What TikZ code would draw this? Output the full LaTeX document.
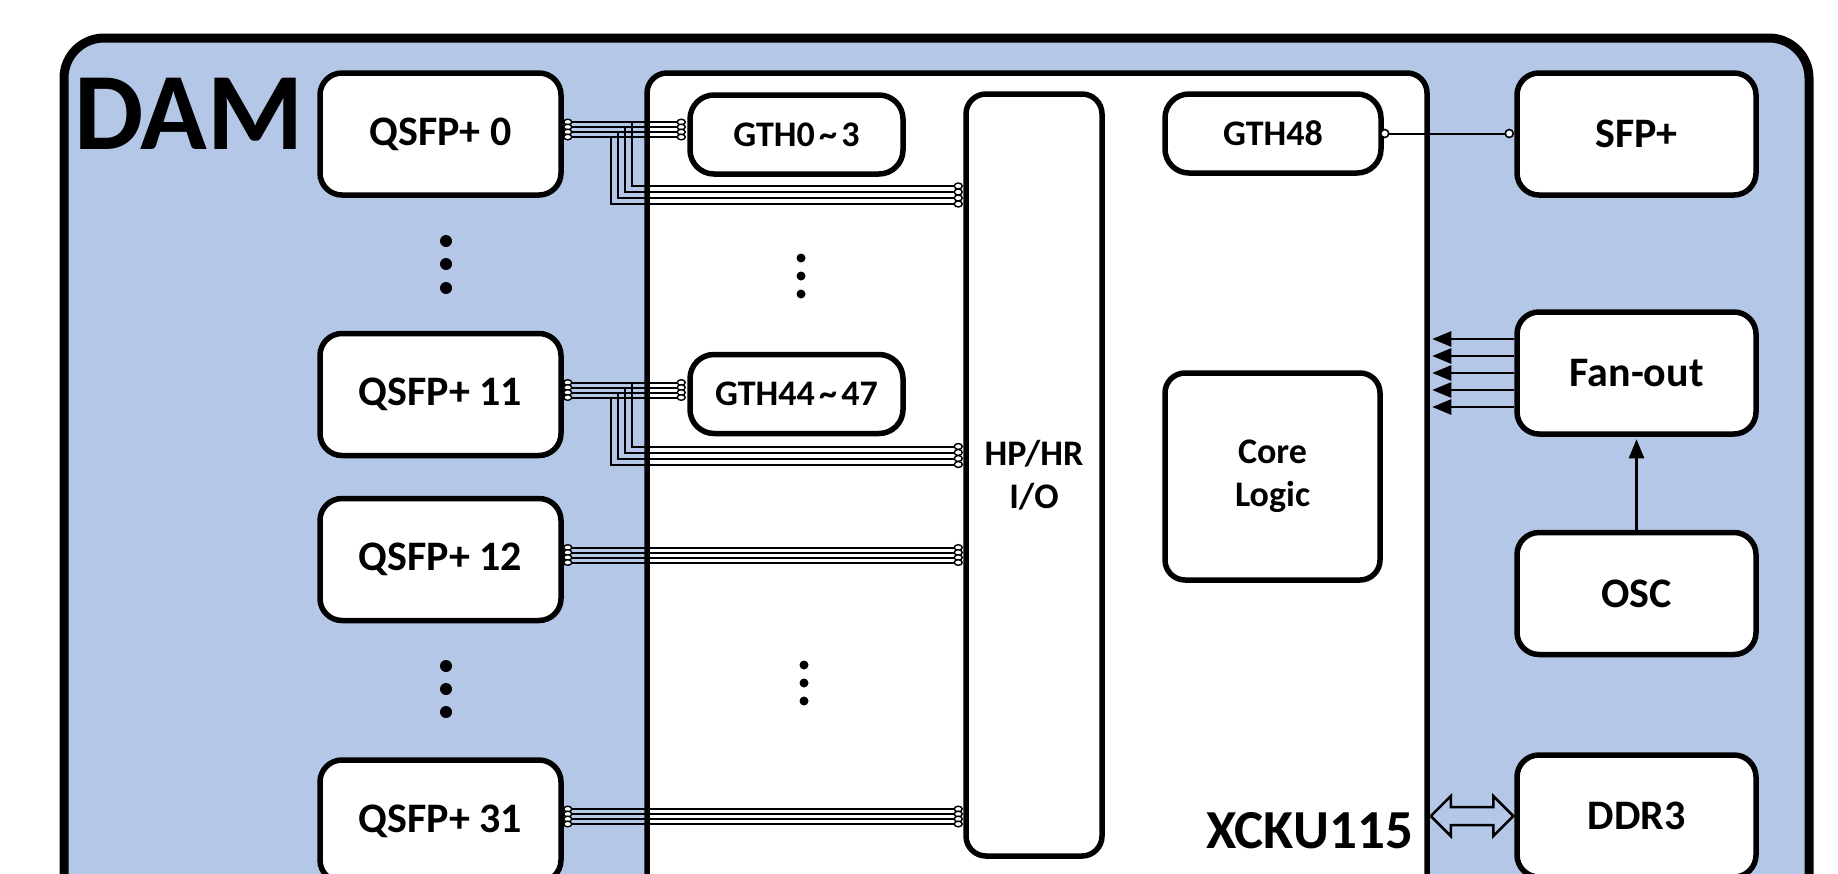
\documentclass[tikz,border=0pt]{standalone}
\usepackage{fontspec}
\setmainfont{Carlito}
\usetikzlibrary{arrows.meta,calc}
\definecolor{dambg}{HTML}{B4C7E7}
\newcommand{\gtil}{\hspace{0.12em}\textasciitilde\hspace{0.12em}}
\tikzset{
  box/.style={draw=black, line width=5.5pt, fill=white, rounded corners=22pt, inner sep=0pt,
    font=\bfseries\fontsize{42}{50}\selectfont},
  sbox/.style={box, rounded corners=24pt, font=\bfseries\fontsize{36}{43}\selectfont},
  bus/.style={line width=2pt},
  pin/.style={draw=black, line width=1.4pt, fill=white},
  fanarrow/.style={line width=2.5pt, -{Triangle[length=19pt,width=15pt]}},
  dotmark/.style={fill=black},
}
\begin{document}
\begin{tikzpicture}[x=1pt,y=-1pt]
\useasboundingbox (0,0) rectangle (1838,873);
\clip (0,0) rectangle (1838,873);
\fill[white] (0,0) rectangle (1838,873);

% containers
\node[box, fill=dambg, line width=9pt, rounded corners=40pt, minimum width=1745pt, minimum height=880pt] (dam) at (936.5,478) {};
\node[font=\bfseries\fontsize{110}{115}\selectfont, anchor=base west, inner sep=0pt] (damlabel) at (74,149) {DAM};
\node[box, rounded corners=20pt, minimum width=780pt, minimum height=827pt] (xcku) at (1037,486.5) {};
\node[font=\bfseries\fontsize{55}{60}\selectfont, anchor=base east, inner sep=0pt] (xckulabel) at (1413,848) {XCKU115};

% FPGA internals
\node[sbox, rounded corners=20pt, minimum width=136pt, minimum height=762pt, align=center] (hp) at (1034,475) {HP/HR\\I/O};
\node[sbox, minimum width=213pt, minimum height=79pt] (gth0) at (796.5,134.5) {GTH0\gtil 3};
\node[sbox, minimum width=213pt, minimum height=79pt] (gth44) at (796.5,394) {GTH44\gtil 47};
\node[sbox, minimum width=216pt, minimum height=79pt] (gth48) at (1273,133.5) {GTH48};
\node[sbox, rounded corners=20pt, minimum width=215pt, minimum height=207pt, align=center] (core) at (1272.5,476.5) {Core\\Logic};

% QSFP cages
\node[box, minimum width=241pt, minimum height=122pt] (qsfp0) at (440.5,134) {QSFP+ 0};
\node[box, minimum width=241pt, minimum height=122pt] (qsfp11) at (440.5,394.5) {QSFP+ 11};
\node[box, minimum width=241pt, minimum height=122pt] (qsfp12) at (440.5,559.5) {QSFP+ 12};
\node[box, minimum width=241pt, minimum height=122pt] (qsfp31) at (440.5,821) {QSFP+ 31};

% right column
\node[box, minimum width=239pt, minimum height=122pt] (sfp) at (1636.5,134) {SFP+};
\node[box, minimum width=239pt, minimum height=122pt] (fan) at (1636.5,373) {Fan-out};
\node[box, minimum width=239pt, minimum height=122pt] (osc) at (1636.5,593.5) {OSC};
\node[box, minimum width=239pt, minimum height=122pt] (ddr) at (1636.5,816) {DDR3};

% vertical ellipses
\foreach \yy in {241,264,288,666,689,712} \fill[dotmark] (446,\yy) circle (6pt);
\foreach \yy in {258,276,294} \fill[dotmark] (801,\yy) circle (4.5pt);
\foreach \yy in {665,683,701} \fill[dotmark] (804,\yy) circle (4.5pt);

% bundles with branch to GTH and HP/HR I/O
\foreach \q/\g in {qsfp0/gth0, qsfp11/gth44} {
  \foreach \dy/\dl/\xd in {12/-52/68, 7/-58/61, 2/-64/54, -3/-70/47} {
    \draw[bus] ([xshift=4pt,yshift=\dy pt]\q.east) -- ([xshift=-6pt,yshift=\dy pt]\q.east -| \g.west);
    \draw[bus] ([xshift=4pt,yshift=\dy pt]\q.east) -- ([xshift=\xd pt,yshift=\dy pt]\q.east)
      |- ([xshift=-5pt,yshift=\dl pt]\q.east -| hp.west);
  }
  \foreach \dy/\dl in {12/-52, 7/-58, 2/-64, -3/-70} {
    \draw[pin] ([xshift=4pt,yshift=\dy pt]\q.east) ellipse [x radius=4pt, y radius=2.8pt];
    \draw[pin] ([xshift=-6pt,yshift=\dy pt]\q.east -| \g.west) ellipse [x radius=4pt, y radius=2.8pt];
    \draw[pin] ([xshift=-5pt,yshift=\dl pt]\q.east -| hp.west) ellipse [x radius=4pt, y radius=3pt];
  }
}
% straight bundles to HP/HR I/O
\foreach \q in {qsfp12, qsfp31} {
  \foreach \dy in {12, 7, 2, -3} {
    \draw[bus] ([xshift=4pt,yshift=\dy pt]\q.east) -- ([xshift=-5pt,yshift=\dy pt]\q.east -| hp.west);
  }
  \foreach \dy in {12, 7, 2, -3} {
    \draw[pin] ([xshift=4pt,yshift=\dy pt]\q.east) ellipse [x radius=4pt, y radius=2.8pt];
    \draw[pin] ([xshift=-5pt,yshift=\dy pt]\q.east -| hp.west) ellipse [x radius=4pt, y radius=2.8pt];
  }
}

% GTH48 - SFP+
\draw[line width=2pt] ([xshift=1pt]gth48.east) -- ([xshift=-5pt]sfp.west |- gth48.east);
\draw[pin, line width=1.6pt] ([xshift=1pt]gth48.east) circle (4pt);
\draw[pin, line width=1.6pt] ([xshift=-5pt]sfp.west |- gth48.east) circle (4pt);

% Fan-out clocks
\foreach \dy in {34,17,0,-17,-34}
  \draw[fanarrow] ([yshift=\dy pt]fan.west) -- ([xshift=2.5pt,yshift=\dy pt]fan.west -| xcku.east);
\draw[fanarrow] (osc.north) -- ([yshift=-2.5pt]fan.south);

% DDR3 double block arrow
\coordinate (da) at ([xshift=1pt]xcku.east |- ddr.west);
\coordinate (db) at ([xshift=-1pt]ddr.west);
\draw[line width=2.5pt, line join=miter] (da) -- ++(20pt,20pt) -- ++(0,-11pt)
  -- ([xshift=-20pt,yshift=9pt]db) -- ++(0,11pt) -- (db) -- ++(-20pt,-20pt) -- ++(0,11pt)
  -- ([xshift=20pt,yshift=-9pt]da) -- ++(0,-11pt) -- cycle;
\end{tikzpicture}
\end{document}
